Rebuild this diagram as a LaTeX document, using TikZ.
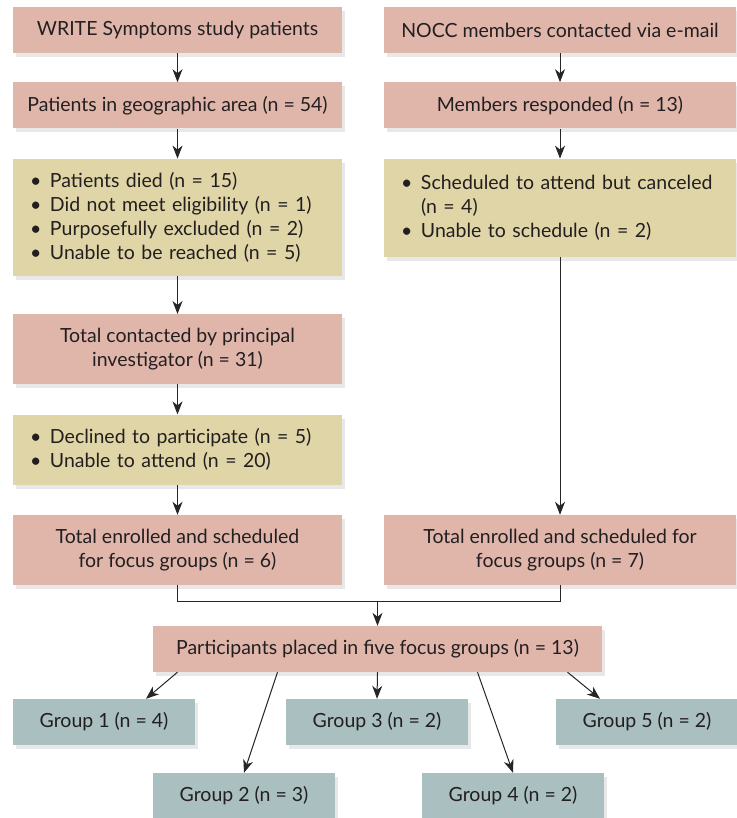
\documentclass[tikz,border=0pt]{standalone}
\usepackage{fontspec}
\setmainfont{Lato}
\usepackage{tikz}
\usetikzlibrary{positioning,arrows.meta,shadows}
\usepackage{xcolor}
\definecolor{boxpink}{HTML}{E0B6AB}
\definecolor{boxsand}{HTML}{E0D5A6}
\definecolor{boxteal}{HTML}{A9BFC0}
\definecolor{txtgray}{HTML}{231F20}
\newcommand{\bul}{\makebox[20pt][l]{\textbullet}}
\newcommand{\ind}{\hspace*{20pt}}

\begin{document}
\begin{tikzpicture}[x=1pt,y=-1pt]
\useasboundingbox (0,0) rectangle (736,818);

\fontsize{19.5}{24}\selectfont
\tikzstyle{basenode}=[align=center, text=txtgray, inner sep=0pt, drop shadow={shadow xshift=3pt, shadow yshift=-4pt, opacity=0.18}];
\tikzstyle{box}=[basenode, fill=boxpink, minimum height=46pt];
\tikzstyle{lbox}=[box, minimum width=329pt];
\tikzstyle{rbox}=[box, minimum width=352pt];
\tikzstyle{cut}=[basenode, fill=boxsand, align=left, inner xsep=17pt];
\tikzstyle{grp}=[basenode, fill=boxteal, minimum width=182pt, minimum height=46pt];
\tikzstyle{basearr}=[line width=1pt, black!85];
\tikzstyle{arr}=[basearr, -{Stealth[length=13pt, width=10pt, inset=4pt]}];

\node[lbox] (write) at (177.5,30) {WRITE Symptoms study patients};
\node[lbox, below=29pt of write] (geo) {Patients in geographic area (n = 54)};
\node[cut, text width=295pt, minimum height=117pt, below=30pt of geo] (excl) {\bul Patients died (n = 15)\\ \bul Did not meet eligibility (n = 1)\\ \bul Purposefully excluded (n = 2)\\ \bul Unable to be reached (n = 5)};
\node[lbox, minimum height=70pt, below=38pt of excl] (contact) {Total contacted by principal\\ investigator (n = 31)};
\node[cut, text width=295pt, minimum height=70pt, below=30pt of contact] (decl) {\bul Declined to participate (n = 5)\\ \bul Unable to attend (n = 20)};
\node[lbox, minimum height=70pt, below=30pt of decl] (lenr) {Total enrolled and scheduled\\ for focus groups (n = 6)};

\node[rbox] (nocc) at (560,30) {NOCC members contacted via e-mail};
\node[rbox, below=29pt of nocc] (resp) {Members responded (n = 13)};
\node[cut, text width=318pt, minimum height=98pt, below=30pt of resp] (cancel) {\bul Scheduled to attend but canceled\\ \ind(n = 4)\\ \bul Unable to schedule (n = 2)};
\node[rbox, minimum height=70pt] (renr) at (lenr -| nocc) {Total enrolled and scheduled for\\ focus groups (n = 7)};

\node[box, minimum width=449pt] (part) at (377.5,649) {Participants placed in five focus groups (n = 13)};

\node[grp] (g1) at (104,722) {Group 1 (n = 4)};
\node[grp] (g3) at (377,722) {Group 3 (n = 2)};
\node[grp] (g5) at (647,722) {Group 5 (n = 2)};
\node[grp] (g2) at (244,796) {Group 2 (n = 3)};
\node[grp] (g4) at (513,796) {Group 4 (n = 2)};

\draw[arr] (write) -- (geo);
\draw[arr] (geo) -- (excl);
\draw[arr] (excl) -- (contact);
\draw[arr] (contact) -- (decl);
\draw[arr] (decl) -- (lenr);

\draw[arr] (nocc) -- (resp);
\draw[arr] (resp) -- (cancel);
\draw[arr] (cancel) -- (renr);

\draw[basearr] (lenr.south) -- ++(0,16) coordinate (mrg) -| (renr.south);
\draw[arr] (mrg -| part.north) -- (part.north);

\draw[arr] ([xshift=-200pt]part.south) -- ([xshift=42pt]g1.north);
\draw[arr] ([xshift=-100pt]part.south) -- (g2.north);
\draw[arr] (part.south) -- (g3.north);
\draw[arr] ([xshift=100pt]part.south) -- (g4.north);
\draw[arr] ([xshift=190pt]part.south) -- ([xshift=-47pt]g5.north);

\end{tikzpicture}
\end{document}
